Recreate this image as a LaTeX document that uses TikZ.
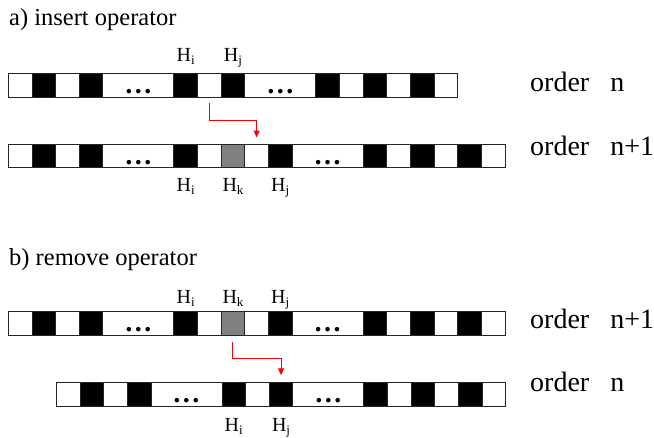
\documentclass[tikz,border=0pt]{standalone}
\usepackage{fontspec}
\setmainfont{Liberation Serif}
\usetikzlibrary{arrows.meta,calc}
\tikzset{
  cellbase/.style={draw=black!85, line width=0.9pt, inner sep=0pt, outer sep=0pt, minimum height=23.7pt, anchor=north west},
  title/.style={font=\fontsize{24.5}{28}\selectfont, anchor=base west, inner sep=0pt},
  ordlabel/.style={font=\fontsize{28}{32}\selectfont, anchor=base west, inner sep=0pt},
  hlabel/.style={font=\fontsize{20}{22}\selectfont, anchor=base, inner sep=0pt},
  dots/.style={font=\fontsize{28}{30}\selectfont\bfseries, anchor=base, inner sep=0pt},
  redarrow/.style={draw=red, line width=1pt, -{Triangle[length=7pt,width=6pt]}},
}
\def\uu{23.65}
\def\rowshort{white/1,black/1,white/1,black/1,white/3,black/1,white/1,black/1,white/3,black/1,white/1,black/1,white/1,black/1,white/1}
\def\rowlong{white/1,black/1,white/1,black/1,white/3,black/1,white/1,black!50/1,white/1,black/1,white/3,black/1,white/1,black/1,white/1,black/1,white/1}
\newcommand\hsub[1]{H\raisebox{-3pt}{\fontsize{13}{13}\selectfont #1}}
\newcommand\drawcellrow[4]{%
  \xdef\curx{#2}%
  \foreach \t/\n [count=\k] in #4 {%
    \node[cellbase, fill=\t, minimum width=\n*\uu pt] (#1\k) at (\curx,#3) {};
    \pgfmathsetmacro\nx{\curx+\n*\uu}%
    \xdef\curx{\nx}%
  }%
}
\begin{document}
\begin{tikzpicture}[x=1pt,y=-1pt]
\useasboundingbox (0,0) rectangle (654,437);

% a) insert operator
\node[title] (ta) at (9,25) {a) insert operator};
\drawcellrow{A}{8.3}{73.5}{\rowshort}
\drawcellrow{B}{8.3}{144}{\rowlong}

\node[dots] (ad1) at ([yshift=4pt]A5.south) {…};
\node[dots] (ad2) at ([yshift=4pt]A9.south) {…};
\node[dots] (bd1) at ([yshift=3.5pt]B5.south) {…};
\node[dots] (bd2) at ([yshift=3.5pt]B11.south) {…};

\node[hlabel] (ahi) at ([yshift=11.8pt]A6.north) {\hsub{i}};
\node[hlabel] (ahj) at ([yshift=11.8pt]A8.north) {\hsub{j}};
\node[hlabel] (bhi) at ([yshift=-24pt]B6.south) {\hsub{i}};
\node[hlabel] (bhk) at ([yshift=-24pt]B8.south) {\hsub{k}};
\node[hlabel] (bhj) at ([yshift=-24pt]B10.south) {\hsub{j}};

\node[ordlabel] (oa) at (530,91.7) {order\hspace{21pt}n};
\node[ordlabel] (ob) at (530,155) {order\hspace{21pt}n+1};

\coordinate (m1) at ($(A7.south)!.5!(B9.north)$);
\draw[redarrow] ([yshift=-6pt]A7.south) |- (B9.north |- m1) -- ([yshift=6.5pt]B9.north);

% b) remove operator
\node[title] (tb) at (9,265) {b) remove operator};
\drawcellrow{C}{8.3}{311.7}{\rowlong}
\drawcellrow{D}{56.4}{382.3}{\rowshort}

\node[dots] (cd1) at ([yshift=3.5pt]C5.south) {…};
\node[dots] (cd2) at ([yshift=3.5pt]C11.south) {…};
\node[dots] (dd1) at ([yshift=3.5pt]D5.south) {…};
\node[dots] (dd2) at ([yshift=3.5pt]D9.south) {…};

\node[hlabel] (chi) at ([yshift=8.4pt]C6.north) {\hsub{i}};
\node[hlabel] (chk) at ([yshift=8.4pt]C8.north) {\hsub{k}};
\node[hlabel] (chj) at ([yshift=8.4pt]C10.north) {\hsub{j}};
\node[hlabel] (dhi) at ([yshift=-25pt]D6.south) {\hsub{i}};
\node[hlabel] (dhj) at ([yshift=-25pt]D8.south) {\hsub{j}};

\node[ordlabel] (oc) at (530,328.3) {order\hspace{21pt}n+1};
\node[ordlabel] (od) at (530,391.7) {order\hspace{21pt}n};

\coordinate (m2) at ($(C8.south)!.5!(D8.north)$);
\draw[redarrow] ([yshift=-6.4pt]C8.south) |- (D8.north |- m2) -- ([yshift=7pt]D8.north);
\end{tikzpicture}
\end{document}
